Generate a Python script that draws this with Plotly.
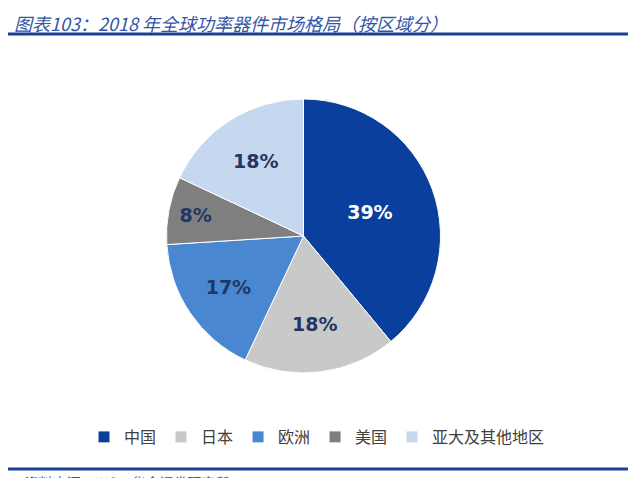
import plotly.graph_objects as go

# 2018 global power device market share by region
regions = ['中国', '日本', '欧洲', '美国', '亚大及其他地区']
shares = [39, 18, 17, 8, 18]
colors = ['#0b3f9e', '#c9c9c9', '#4a87d1', '#7f7f7f', '#c6d8ef']
label_colors = ['#ffffff', '#1f3864', '#1f3864', '#1f3864', '#1f3864']

# the page body has an 8px margin, so the figure is 632x470 and
# reference pixel positions get shifted by 8
W, H, OFF = 632, 470, 8


def px_x(x):
    return (x - OFF) / W


def px_y(y):
    return 1 - (y - OFF) / H


fig = go.Figure()
fig.add_trace(go.Pie(
    labels=regions,
    values=shares,
    sort=False,
    direction='clockwise',
    rotation=0,
    marker=dict(colors=colors, line=dict(color='white', width=1)),
    texttemplate='%{value}%',
    textposition='inside',
    insidetextorientation='horizontal',
    insidetextfont=dict(family='DejaVu Sans', size=19, color=label_colors, weight='bold'),
    hoverinfo='label+percent',
    domain=dict(x=[px_x(166.5), px_x(440.5)], y=[px_y(373), px_y(99)]),
))

fig.update_layout(
    width=W, height=H,
    margin=dict(l=0, r=0, t=0, b=0),
    paper_bgcolor='white',
    plot_bgcolor='white',
    showlegend=True,
    legend=dict(
        orientation='h',
        x=px_x(317), xanchor='center',
        y=px_y(437), yanchor='middle',
        font=dict(family='Noto Sans CJK SC', size=16, color='#404040'),
        itemwidth=30,
        traceorder='normal',
    ),
    font=dict(family='Noto Sans CJK SC'),
)

# title and divider lines
fig.add_annotation(
    text='<i>图表103：2018 年全球功率器件市场格局（按区域分）</i>',
    xref='paper', yref='paper', x=px_x(12), y=1,
    xanchor='left', yanchor='top', showarrow=False,
    font=dict(family='Noto Sans CJK SC', size=18, color='#3356a8'),
)
fig.add_shape(type='line', xref='paper', yref='paper',
              x0=0, x1=px_x(628), y0=px_y(34), y1=px_y(34),
              line=dict(color='#1a3f98', width=3))
fig.add_shape(type='line', xref='paper', yref='paper',
              x0=0, x1=px_x(628), y0=px_y(469), y1=px_y(469),
              line=dict(color='#1a3f98', width=3))
fig.add_annotation(
    text='<i>资料来源：IHS，华金证券研究所</i>',
    xref='paper', yref='paper', x=px_x(20), y=px_y(470),
    xanchor='left', yanchor='top', showarrow=False,
    font=dict(family='Noto Sans CJK SC', size=14, color='#3356a8'),
)

fig.write_html('out.html')
